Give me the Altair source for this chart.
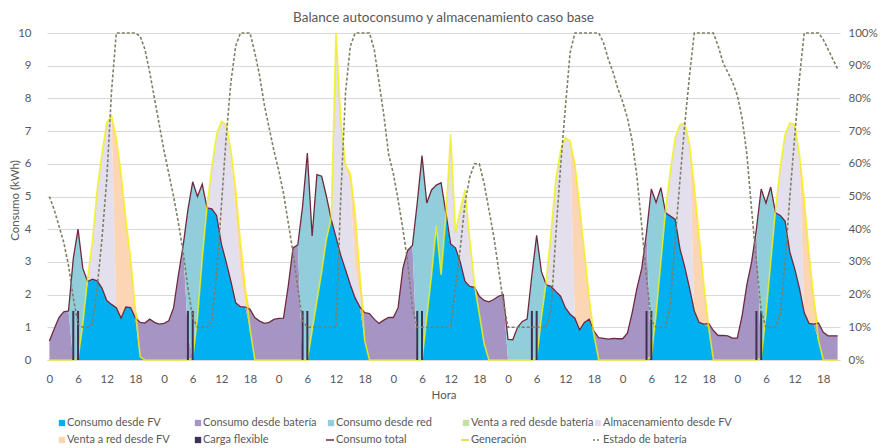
import altair as alt
import pandas as pd

# ---------------- data ----------------
# Consumo total (kWh) per hour, day by day
cons_d1 = [0.58, 0.95, 1.3, 1.47, 1.5, 3.1, 4.0, 2.8, 2.4, 2.47, 2.42, 2.2, 1.82, 1.7, 1.6, 1.28, 1.62, 1.6, 1.28, 1.15, 1.13, 1.25, 1.15, 1.1]
cons_d2 = [1.12, 1.2, 1.6, 2.6, 3.5, 4.6, 5.45, 5.0, 5.38, 4.65, 4.62, 4.42, 3.55, 3.0, 2.4, 1.75, 1.63, 1.62, 1.55, 1.3, 1.19, 1.12, 1.15, 1.24]
cons_d3 = [1.27, 1.28, 2.26, 3.43, 3.52, 4.7, 6.33, 3.79, 5.67, 5.62, 5.0, 4.3, 3.75, 3.2, 2.75, 2.3, 1.9, 1.62, 1.45, 1.42, 1.25, 1.12, 1.22, 1.3]
cons_d4 = [1.3, 1.6, 2.8, 3.35, 3.5, 4.8, 6.25, 4.8, 5.2, 5.35, 5.42, 4.5, 3.55, 3.43, 3.0, 2.4, 2.25, 2.22, 1.95, 1.82, 1.78, 1.85, 1.95, 2.0]
cons_d5 = [0.63, 0.62, 1.0, 1.18, 1.25, 2.6, 3.81, 2.7, 2.3, 2.25, 2.1, 1.95, 1.6, 1.4, 1.28, 0.92, 1.15, 1.25, 0.88, 0.68, 0.66, 0.64, 0.66, 0.65]
cons_d6 = [0.65, 0.82, 1.45, 2.2, 2.8, 3.9, 5.23, 4.82, 5.27, 4.5, 4.4, 4.3, 3.4, 2.85, 2.2, 1.5, 1.15, 1.1, 1.12, 0.9, 0.75, 0.75, 0.74, 0.67]
cons_d7 = [0.67, 1.35, 2.3, 3.0, 4.0, 5.23, 4.8, 5.29, 4.5, 4.42, 4.25, 3.3, 2.8, 2.2, 1.45, 1.12, 1.1, 1.13, 0.85, 0.74, 0.74, 0.74]

# Generación FV (kWh) per hour
gen_d1 = [0, 0, 0, 0, 0, 0, 0.05, 1.1, 2.5, 3.6, 5.2, 6.3, 7.25, 7.47, 6.8, 5.7, 4.3, 3.1, 1.55, 0.1, 0, 0, 0, 0]
gen_d2 = [0, 0, 0, 0, 0, 0, 0.05, 1.3, 3.1, 4.7, 5.9, 6.9, 7.3, 7.2, 6.4, 5.2, 3.6, 2.2, 0.95, 0, 0, 0, 0, 0]
gen_d3 = [0, 0, 0, 0, 0, 0, 0, 0.9, 1.8, 2.7, 3.7, 4.35, 10.0, 7.3, 5.95, 5.7, 4.5, 2.6, 0.6, 0, 0, 0, 0, 0]
gen_d4 = [0, 0, 0, 0, 0, 0, 0, 1.3, 2.6, 4.1, 2.6, 4.4, 6.9, 3.9, 4.6, 5.2, 3.7, 2.3, 1.4, 0.5, 0, 0, 0, 0]
gen_d5 = [0, 0, 0, 0, 0, 0, 0.05, 1.3, 2.4, 3.9, 5.5, 6.4, 6.8, 6.7, 6.0, 4.7, 3.3, 1.9, 0.75, 0, 0, 0, 0, 0]
gen_d6 = [0, 0, 0, 0, 0, 0, 0.1, 1.4, 3.0, 4.6, 5.8, 6.8, 7.2, 7.25, 6.6, 5.3, 3.8, 2.3, 1.0, 0, 0, 0, 0, 0]
gen_d7 = [0, 0, 0, 0, 0, 0.05, 1.4, 3.0, 4.6, 5.9, 6.9, 7.25, 7.2, 6.3, 4.9, 3.3, 1.9, 0.6, 0, 0, 0, 0]

# Estado de batería (%) per hour
soc_d1 = [50, 46, 41, 36, 29, 19, 11, 10, 10, 11, 22, 37, 55, 82, 100, 100, 100, 100, 100, 99, 95, 88, 80, 72]
soc_d2 = [64, 57, 50, 42, 33, 22, 13, 10, 10, 10, 12, 26, 47, 68, 85, 96, 100, 100, 100, 94, 87, 78, 71, 64]
soc_d3 = [58, 51, 42, 33, 22, 12, 10, 10, 10, 10, 10, 10, 10, 50, 82, 96, 100, 100, 100, 100, 95, 85, 75, 63]
soc_d4 = [57, 49, 40, 30, 16, 10, 10, 10, 10, 10, 10, 10, 10, 22, 34, 48, 56, 60, 60, 54, 46, 38, 28, 18]
soc_d5 = [10, 10, 10, 10, 10, 10, 10, 10, 10, 15, 38, 59, 77, 94, 100, 100, 100, 100, 100, 100, 97, 92, 88, 83]
soc_d6 = [79, 74, 67, 56, 41, 25, 12, 10, 10, 10, 17, 37, 55, 72, 87, 100, 100, 100, 100, 100, 96, 91, 88, 85]
soc_d7 = [81, 74, 63, 46, 30, 15, 10, 10, 10, 14, 30, 50, 68, 86, 100, 100, 100, 100, 98, 95, 92, 89]

# hours whose deficit is bought from the grid (others come from the battery)
grid_hours = [5, 6, 7, 8, 29, 30, 31, 32, 53, 54, 55, 56, 57, 58,
              77, 78, 79, 80, 81, 82, 83, 96, 97, 98, 99, 100, 101, 102, 103,
              126, 127, 128, 149, 150, 151]
battery_part = {29: 0.8}          # kWh still taken from the battery in a grid hour
# hours whose PV surplus is sold (others go to storage)
sale_hours = [14, 15, 16, 17, 18, 41, 110, 111, 112, 113, 114,
              135, 136, 137, 138, 158, 159, 160, 161]
sale_part = {39: 0.8, 40: 1.0, 63: 0.4, 64: 1.7, 65: 0.6}   # kWh sold in mixed hours

# Carga flexible
flex_hours = [5, 6, 29, 30, 53, 54, 77, 78, 101, 102, 125, 126, 148, 149]
flex_kwh = 1.5

cons = cons_d1 + cons_d2 + cons_d3 + cons_d4 + cons_d5 + cons_d6 + cons_d7
gen = gen_d1 + gen_d2 + gen_d3 + gen_d4 + gen_d5 + gen_d6 + gen_d7
soc = soc_d1 + soc_d2 + soc_d3 + soc_d4 + soc_d5 + soc_d6 + soc_d7
hours = list(range(len(cons)))

series_names = ["Consumo desde FV", "Consumo desde batería", "Consumo desde red",
                "Venta a red desde batería", "Almacenamiento desde FV", "Venta a red desde FV"]
series_colors = ["#00B0F0", "#A695C4", "#92CDDC", "#C4E0A6", "#E4DFEC", "#FCD5B4"]

rows = []
for h, c, g in zip(hours, cons, gen):
    fv = min(c, g)
    deficit = c - fv
    if h in grid_hours:
        bat = min(battery_part.get(h, 0.0), deficit)
        red = deficit - bat
    else:
        bat, red = deficit, 0.0
    surplus = g - fv
    if h in sale_part:
        sell = min(sale_part[h], surplus)
        store = surplus - sell
    elif h in sale_hours:
        sell, store = surplus, 0.0
    else:
        sell, store = 0.0, surplus
    vals = [fv, bat, red, 0.0, store, sell]
    for k, (name, v) in enumerate(zip(series_names, vals)):
        rows.append({"hora": h, "serie": name, "orden": k, "kwh": round(v, 4)})
area_df = pd.DataFrame(rows)
line_df = pd.DataFrame({"hora": hours, "consumo": cons, "gen": gen,
                        "soc": [s / 100 for s in soc]})
flex_df = pd.DataFrame({"hora": flex_hours, "base": [0.0] * len(flex_hours),
                        "carga": [flex_kwh] * len(flex_hours)})

# ---------------- chart ----------------
W, H = 793, 327
GRAY = "#595959"
FONT = "Lato"
xscale = alt.Scale(domain=[-0.5, len(hours) - 0.5], nice=False, zero=False)
yscale = alt.Scale(domain=[0, 10], nice=False)

x_axis = alt.Axis(values=list(range(0, len(hours), 6)), labelExpr="datum.value % 24",
                  title="Hora", grid=False, ticks=False, labelPadding=13,
                  labelOverlap=False, domainColor="#D9D9D9", labelColor=GRAY,
                  labelFontSize=11.5, titleColor=GRAY, titleFontSize=11.5,
                  titleFontWeight="normal", titleY=35, titleBaseline="middle")
y_axis = alt.Axis(values=list(range(11)), title="Consumo (kWh)", grid=True,
                  gridColor="#D9D9D9", ticks=False, domain=False, labelPadding=16,
                  labelColor=GRAY, labelFontSize=11.5, titleColor=GRAY,
                  titleFontSize=11.5, titleFontWeight="normal", orient="left",
                  titleX=-32, titleY=167, titleBaseline="middle")

area = alt.Chart(area_df).mark_area(interpolate="linear", opacity=1).encode(
    x=alt.X("hora:Q", scale=xscale, axis=x_axis),
    y=alt.Y("kwh:Q", stack="zero", scale=yscale, axis=y_axis),
    color=alt.Color("serie:N", scale=alt.Scale(domain=series_names, range=series_colors),
                    legend=None),
    order=alt.Order("orden:Q", sort="ascending"),
)
cons_line = alt.Chart(line_df).mark_line(color="#6E2B3E", strokeWidth=1.3).encode(
    x=alt.X("hora:Q", scale=xscale, axis=x_axis),
    y=alt.Y("consumo:Q", scale=yscale, axis=None),
)
gen_line = alt.Chart(line_df).mark_line(color="#F2F200", strokeWidth=1.7, opacity=0.75).encode(
    x=alt.X("hora:Q", scale=xscale, axis=x_axis),
    y=alt.Y("gen:Q", scale=yscale, axis=None),
)
flex = alt.Chart(flex_df).mark_rule(color="#3F3151", strokeWidth=2).encode(
    x=alt.X("hora:Q", scale=xscale, axis=x_axis),
    y=alt.Y("base:Q", scale=yscale, axis=None),
    y2="carga:Q",
)
soc_line = alt.Chart(line_df).mark_line(color="#7F7F66", strokeDash=[3, 2],
                                        strokeWidth=1.6).encode(
    x=alt.X("hora:Q", scale=xscale, axis=x_axis),
    y=alt.Y("soc:Q", scale=alt.Scale(domain=[0, 1], nice=False),
            axis=alt.Axis(orient="right", format=".0%",
                          values=[i / 10 for i in range(11)], grid=False, ticks=False,
                          domain=False, labelPadding=8, title=None,
                          labelColor=GRAY, labelFontSize=11.5)),
)

one = pd.DataFrame({"k": [0]})
title = alt.Chart(one).mark_text(
    text="Balance autoconsumo y almacenamiento caso base", align="center",
    baseline="middle", fontSize=13.5, color=GRAY, font=FONT,
).encode(x=alt.value(W / 2), y=alt.value(-15))

# ---------------- legend (drawn by hand, Excel style) ----------------
col_x = [62, 198, 331, 466, 598]   # page x of each legend column
row_y = [423, 440]                 # page y of each legend row
ox, oy = 47, 33                    # page position of the plot origin
legend_items = [
    ("Consumo desde FV", "sq", "#00B0F0"),
    ("Consumo desde batería", "sq", "#A695C4"),
    ("Consumo desde red", "sq", "#92CDDC"),
    ("Venta a red desde batería", "sq", "#C4E0A6"),
    ("Almacenamiento desde FV", "sq", "#E4DFEC"),
    ("Venta a red desde FV", "sq", "#FCD5B4"),
    ("Carga flexible", "sq", "#3F3151"),
    ("Consumo total", "line", "#6E2B3E"),
    ("Generación", "line", "#D8D820"),
    ("Estado de batería", "dash", "#7F7F66"),
]
legend_layers = []
for i, (label, kind, color) in enumerate(legend_items):
    cx = col_x[i % 5] - ox
    cy = row_y[i // 5] - oy
    if kind == "sq":
        sym = alt.Chart(one).mark_square(size=40, color=color, opacity=1).encode(
            x=alt.value(cx), y=alt.value(cy))
    else:
        sym = alt.Chart(one).mark_rule(
            color=color, strokeWidth=1.6,
            strokeDash=[2, 2] if kind == "dash" else [1, 0]).encode(
            x=alt.value(cx - 5), x2=alt.value(cx + 3), y=alt.value(cy))
    txt = alt.Chart(one).mark_text(text=label, align="left", baseline="middle",
                                   fontSize=11, color=GRAY, font=FONT).encode(
        x=alt.value(cx + 5), y=alt.value(cy))
    legend_layers += [sym, txt]

chart = alt.layer(area, cons_line, gen_line, flex, soc_line, title,
                  *legend_layers).resolve_scale(
    y="independent"
).properties(
    width=W, height=H,
    autosize=alt.AutoSizeParams(type="none"),
    padding={"left": 39, "top": 25, "right": 40, "bottom": 90},
).configure(font=FONT).configure_view(stroke=None)

chart.save("out.html", embed_options={"renderer": "svg", "actions": False})
